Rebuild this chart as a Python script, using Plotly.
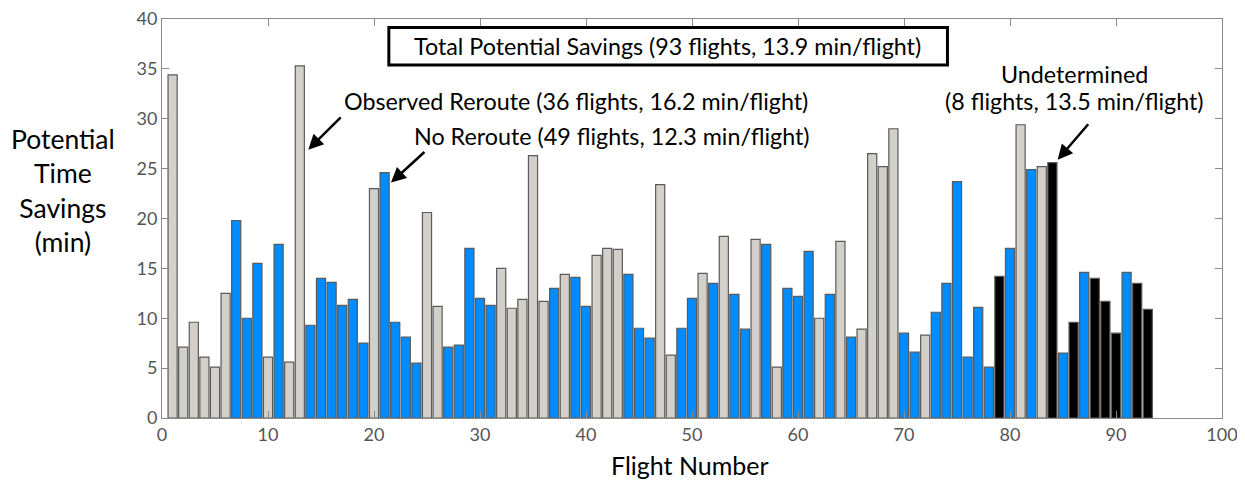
import plotly.graph_objects as go

flights = list(range(1, 94))
savings = [34.4, 7.1, 9.6, 6.1, 5.1, 12.5, 19.8, 10.0, 15.5, 6.1,
           17.4, 5.6, 35.3, 9.3, 14.0, 13.6, 11.3, 11.9, 7.5, 23.0,
           24.6, 9.6, 8.1, 5.5, 20.6, 11.2, 7.1, 7.3, 17.0, 12.0,
           11.3, 15.0, 11.0, 11.9, 26.3, 11.7, 13.0, 14.4, 14.1, 11.2,
           16.3, 17.0, 16.9, 14.4, 9.0, 8.0, 23.4, 6.3, 9.0, 12.0,
           14.5, 13.5, 18.2, 12.4, 8.9, 17.9, 17.4, 5.1, 13.0, 12.2,
           16.7, 10.0, 12.4, 17.7, 8.1, 8.9, 26.5, 25.2, 29.0, 8.5,
           6.6, 8.3, 10.6, 13.5, 23.7, 6.1, 11.1, 5.1, 14.2, 17.0,
           29.4, 24.9, 25.2, 25.6, 6.5, 9.6, 14.6, 14.0, 11.7, 8.5,
           14.6, 13.5, 10.9]
# R = observed reroute, N = no reroute, U = undetermined
category = list("RRRRRRNNNRNRRNNNNNNRNNNNRRNNNNNRRRRRNRNNRRRNNNRRNNRNRNNRNRNNNRNRNRRRRNNRNNNNNNUNRNRUNUNUUUNUU")

colors = {"R": "#d3d0c9", "N": "#008cff", "U": "#000000"}
names = {"R": "Observed Reroute", "N": "No Reroute", "U": "Undetermined"}

fig = go.Figure()
for c in ["R", "N", "U"]:
    xs = [f for f, k in zip(flights, category) if k == c]
    ys = [v for v, k in zip(savings, category) if k == c]
    fig.add_trace(go.Bar(x=xs, y=ys, width=0.86, name=names[c],
                         marker=dict(color=colors[c], line=dict(color="#5a5a5a", width=1.2)),
                         showlegend=False))

FONT = "Lato"
ANN = 23.3
# page body has an 8px margin, so the figure is sized to fit the window
fig.update_layout(
    width=1237, height=473,
    margin=dict(l=154, r=23, t=11, b=63, autoexpand=False),
    barmode="overlay",
    plot_bgcolor="white", paper_bgcolor="white",
    font=dict(family=FONT, color="black"),
)
axis_common = dict(showline=True, linecolor="#8a8a8a", linewidth=1, mirror="ticks",
                   ticks="inside", ticklen=7, tickcolor="#8a8a8a", showgrid=False,
                   zeroline=False, automargin=False, ticklabeloverflow="allow",
                   tickfont=dict(size=18, color="#555555", family=FONT))
fig.update_xaxes(range=[0, 100], tick0=0, dtick=10, **axis_common, title=None)
fig.update_yaxes(range=[0, 40], tick0=0, dtick=5, **axis_common, title=None)

fig.add_annotation(xref="paper", yref="paper", x=-0.0934, y=0.57, xanchor="center", yanchor="middle",
                   text="Potential<br>Time<br>Savings<br>(min)", showarrow=False,
                   font=dict(size=26.5, family=FONT), align="center")
fig.add_annotation(xref="paper", yref="paper", x=0.498, y=-0.117, xanchor="center", yanchor="middle",
                   text="Flight Number", showarrow=False, font=dict(size=25, family=FONT))

# box around the total savings label
fig.add_shape(type="rect", xref="x", yref="y", x0=21.4, x1=74.1, y0=35.4, y1=39.15,
              line=dict(color="black", width=3), fillcolor="white", layer="above")
fig.add_annotation(x=47.7, y=37.3, xref="x", yref="y",
                   text="Total Potential Savings (93 flights, 13.9 min/flight)", showarrow=False,
                   font=dict(size=ANN))
fig.add_annotation(x=17.0, y=31.8, xref="x", yref="y", xanchor="left",
                   text="Observed Reroute (36 flights, 16.2 min/flight)", showarrow=False,
                   font=dict(size=ANN))
fig.add_annotation(x=23.6, y=28.3, xref="x", yref="y", xanchor="left",
                   text="No Reroute (49 flights, 12.3 min/flight)", showarrow=False,
                   font=dict(size=ANN))
fig.add_annotation(x=86.1, y=34.5, xref="x", yref="y", xanchor="center",
                   text="Undetermined", showarrow=False, font=dict(size=ANN))
fig.add_annotation(x=86.1, y=31.8, xref="x", yref="y", xanchor="center",
                   text="(8 flights, 13.5 min/flight)", showarrow=False, font=dict(size=ANN))

arrows = [((17.0, 30.3), (13.8, 26.9)),
          ((24.9, 26.8), (21.6, 23.6)),
          ((87.5, 29.6), (84.5, 25.9))]
for (tx, ty), (hx, hy) in arrows:
    fig.add_annotation(x=hx, y=hy, ax=tx, ay=ty, xref="x", yref="y", axref="x", ayref="y",
                       text="", showarrow=True, arrowhead=2, arrowsize=1.2, arrowwidth=2.5,
                       arrowcolor="black")

fig.write_html("out.html")
